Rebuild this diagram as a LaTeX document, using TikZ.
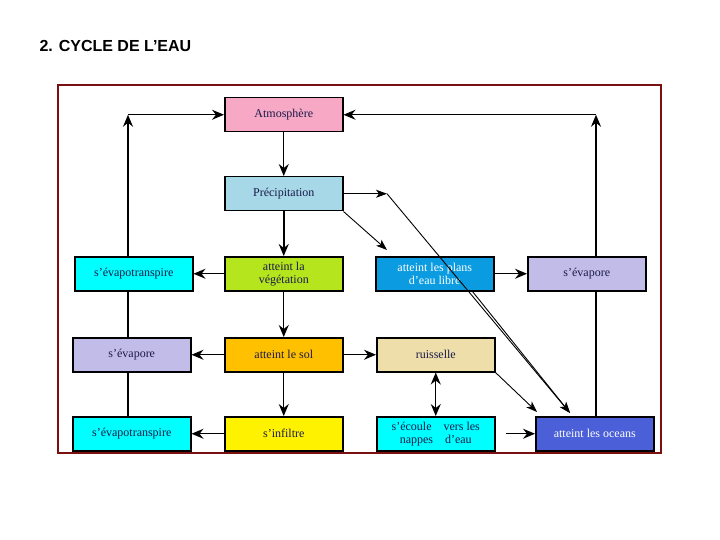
\documentclass[tikz,border=0pt]{standalone}
\usepackage{fontspec}
\setmainfont{Liberation Serif}
\newfontfamily\titlefont{Liberation Sans}
\usetikzlibrary{arrows.meta}
\definecolor{frame}{HTML}{7A1010}
\definecolor{txt}{HTML}{1A1A4A}
\definecolor{cy}{HTML}{00FFFF}
\tikzset{
 bx/.style={draw=black, line width=1.5pt, minimum width=118pt, minimum height=34pt, inner sep=1pt, align=center, font=\fontsize{12}{13}\selectfont, text=txt, anchor=north west},
 arr/.style={-{Stealth[length=12pt,width=10pt,inset=4pt]}, line width=1.2pt},
 ln/.style={line width=1.2pt},
 thin/.style={-{Stealth[length=11pt,width=8pt,inset=3pt]}, line width=0.9pt}
}
\begin{document}
\begin{tikzpicture}[x=1pt,y=-1pt]
\useasboundingbox[fill=white] (0,0) rectangle (720,540);
\node[anchor=west, font=\titlefont\bfseries\fontsize{16}{16}\selectfont] (title) at (36,46) {2. CYCLE DE L’EAU};
\draw[frame, line width=1.5pt] (58,85) rectangle (661,453);
\node[bx, fill={rgb,255:red,247;green,168;blue,196}] (atm) at (224,97) {Atmosphère};
\node[bx, fill={rgb,255:red,166;green,216;blue,232}] (pre) at (224,176) {Précipitation};
\node[bx, fill=cy] (evt1) at (74,256) {s'évapotranspire};
\node[bx, fill={rgb,255:red,181;green,230;blue,29}] (veg) at (224,256) {atteint la\\végétation};
\node[bx, fill={rgb,255:red,10;green,155;blue,224}, text=white] (pla) at (375,256) {atteint les plans\\d'eau libre};
\node[bx, fill={rgb,255:red,194;green,189;blue,232}] (eva1) at (527,256) {s'évapore};
\node[bx, fill={rgb,255:red,194;green,189;blue,232}] (eva2) at (72,337) {s'évapore};
\node[bx, fill={rgb,255:red,255;green,192;blue,0}] (sol) at (224,337) {atteint le sol};
\node[bx, fill={rgb,255:red,238;green,223;blue,170}] (rui) at (376,337) {ruisselle};
\node[bx, fill=cy] (evt2) at (72,416) {s'évapotranspire};
\node[bx, fill=yellow] (inf) at (224,416) {s'infiltre};
\node[bx, fill=cy] (eco) at (376,416) {s'écoule\quad vers les\\nappes\quad d'eau};
\node[bx, fill={rgb,255:red,74;green,95;blue,216}, text=white] (oce) at (535,416) {atteint les oceans};
\coordinate (cl) at (atm.west -| 128,0);
\coordinate (cr) at (atm.east -| 596,0);
\coordinate (pc) at (pre.east -| 387,0);
\draw[ln] (evt2.north -| cl) -- (eva2.south -| cl);
\draw[ln] (eva2.north -| cl) -- (evt1.south -| cl);
\draw[arr] (evt1.north -| cl) -- (cl);
\draw[arr] (cl) -- (atm.west);
\draw[ln] (oce.north -| cr) -- (eva1.south -| cr);
\draw[arr] (eva1.north -| cr) -- (cr);
\draw[arr] (cr) -- (atm.east);
\draw[arr] (atm) -- (pre);
\draw[arr, line width=1.8pt] (pre) -- (veg);
\draw[arr] (veg) -- (evt1);
\draw[arr] (veg) -- (sol);
\draw[arr] (sol) -- (eva2);
\draw[arr] (sol) -- (inf);
\draw[arr] (inf) -- (evt2);
\draw[arr] (sol) -- (rui);
\draw[{Stealth[length=12pt,width=10pt,inset=4pt]}-{Stealth[length=12pt,width=10pt,inset=4pt]}, line width=1.2pt] (rui) -- (eco);
\draw[arr] ([xshift=10pt]eco.east) -- (oce.west);
\draw[arr] (pla) -- (eva1);
\draw[thin] (pre.east) -- (pc);
\draw[thin] (pc) -- (570,413);
\draw[thin] (pre.south east) -- (387,250);
\draw[thin] (rui.south east) -- (537,412);
\draw[thin] ([xshift=-22pt]pla.south east) -- (570,413);
\end{tikzpicture}
\end{document}
